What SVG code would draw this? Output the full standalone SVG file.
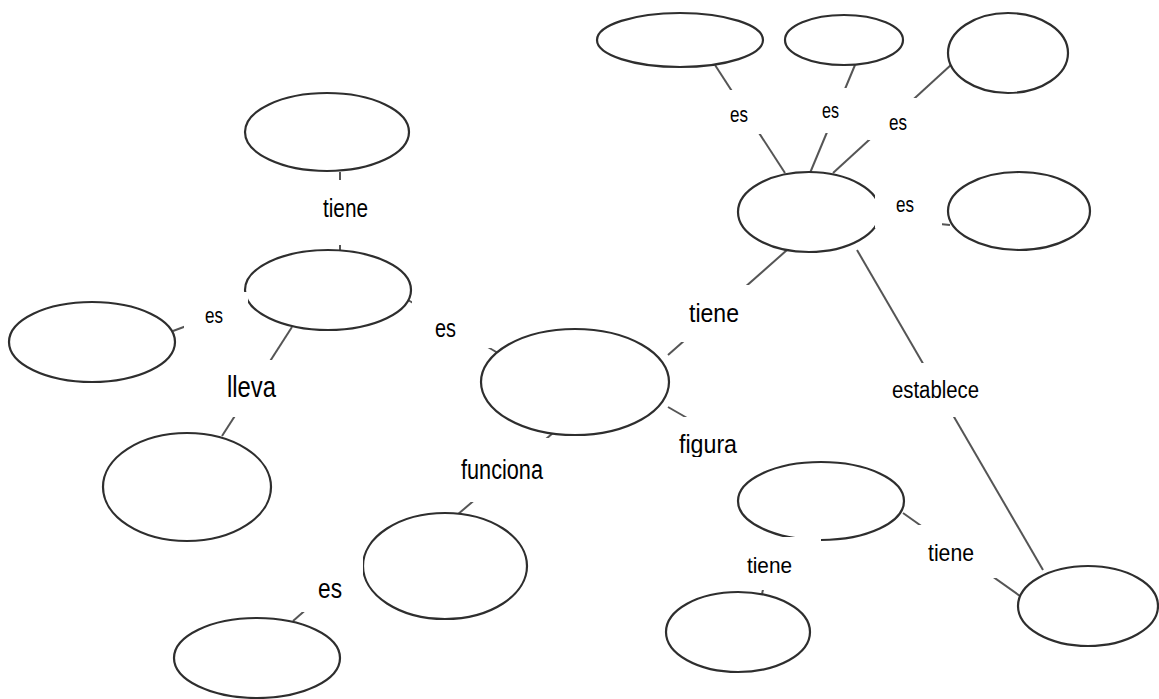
<svg xmlns="http://www.w3.org/2000/svg" width="1159" height="699" viewBox="0 0 1159 699">
<style>
.node{fill:#fff;stroke:#2e2e2e;stroke-width:2.2}
.conn{stroke:#555;stroke-width:2;fill:none}
.box{fill:#fff;stroke:none}
.lbl{font-family:"Liberation Sans Narrow","Liberation Sans",Arial,sans-serif;fill:#000}
</style>
<defs>
<clipPath id="clipFigura"><rect x="660" y="400" width="120" height="57"/></clipPath>
</defs>
<rect x="0" y="0" width="1159" height="699" fill="#fff"/>
<g id="connectors">
<line class="conn" x1="340" y1="172" x2="340" y2="250"/>
<line class="conn" x1="173" y1="331" x2="248" y2="303"/>
<line class="conn" x1="408" y1="300" x2="503" y2="356"/>
<line class="conn" x1="292" y1="327" x2="222" y2="436"/>
<line class="conn" x1="715" y1="65" x2="785" y2="173"/>
<line class="conn" x1="855" y1="65" x2="810" y2="173"/>
<line class="conn" x1="952" y1="64" x2="833" y2="173"/>
<line class="conn" x1="878" y1="218" x2="950" y2="225"/>
<line class="conn" x1="787" y1="250" x2="668" y2="355"/>
<line class="conn" x1="857" y1="250" x2="1043" y2="570"/>
<line class="conn" x1="668" y1="407" x2="708" y2="430"/>
<line class="conn" x1="553" y1="433" x2="457" y2="515"/>
<line class="conn" x1="366" y1="557" x2="293" y2="621"/>
<line class="conn" x1="774" y1="540" x2="762" y2="594"/>
<line class="conn" x1="903" y1="513" x2="1020" y2="596"/>
</g>
<g id="n-top-left"><ellipse class="node" cx="327" cy="132" rx="82" ry="39"/></g>
<g id="n-mid-left"><ellipse class="node" cx="328" cy="290" rx="83" ry="40"/></g>
<g id="n-far-left"><ellipse class="node" cx="92" cy="342" rx="83" ry="40"/></g>
<g id="n-lleva"><ellipse class="node" cx="187" cy="487" rx="84" ry="54"/></g>
<g id="n-center"><ellipse class="node" cx="575" cy="382" rx="94" ry="53"/></g>
<g id="n-funciona"><ellipse class="node" cx="445" cy="566" rx="82" ry="53"/></g>
<g id="n-bottom-left"><ellipse class="node" cx="257" cy="658" rx="83" ry="40"/></g>
<g id="n-figura"><ellipse class="node" cx="821" cy="501" rx="83" ry="39"/></g>
<g id="n-bottom-mid"><ellipse class="node" cx="738" cy="632" rx="72" ry="40"/></g>
<g id="n-bottom-right"><ellipse class="node" cx="1088" cy="606" rx="70" ry="40"/></g>
<g id="n-top-a"><ellipse class="node" cx="680" cy="40" rx="83" ry="27"/></g>
<g id="n-top-b"><ellipse class="node" cx="844" cy="40" rx="59" ry="25"/></g>
<g id="n-top-c"><ellipse class="node" cx="1008" cy="53" rx="60" ry="40"/></g>
<g id="n-hub"><ellipse class="node" cx="809" cy="212" rx="71" ry="40"/></g>
<g id="n-right-es"><ellipse class="node" cx="1019" cy="211" rx="71" ry="39"/></g>
<g id="labels">
<g id="l-tiene-top"><rect class="box" x="300" y="180" width="90" height="65"/><text class="lbl" x="323" y="217" font-size="25" textLength="45" lengthAdjust="spacingAndGlyphs">tiene</text></g>
<g id="l-es-left"><rect class="box" x="184" y="292" width="64" height="53"/><text class="lbl" x="205" y="323" font-size="22" textLength="18" lengthAdjust="spacingAndGlyphs">es</text></g>
<g id="l-es-mid"><rect class="box" x="412" y="300" width="80" height="48"/><text class="lbl" x="435" y="337" font-size="25" textLength="21" lengthAdjust="spacingAndGlyphs">es</text></g>
<g id="l-lleva"><rect class="box" x="195" y="360" width="110" height="57"/><text class="lbl" x="227" y="397" font-size="29" textLength="49" lengthAdjust="spacingAndGlyphs">lleva</text></g>
<g id="l-es-a"><rect class="box" x="713" y="90" width="62" height="44"/><text class="lbl" x="730" y="122" font-size="22" textLength="18" lengthAdjust="spacingAndGlyphs">es</text></g>
<g id="l-es-b"><rect class="box" x="800" y="88" width="68" height="45"/><text class="lbl" x="822" y="118" font-size="22" textLength="17" lengthAdjust="spacingAndGlyphs">es</text></g>
<g id="l-es-c"><rect class="box" x="868" y="98" width="77" height="42"/><text class="lbl" x="889" y="130" font-size="22" textLength="18" lengthAdjust="spacingAndGlyphs">es</text></g>
<g id="l-es-d"><rect class="box" x="875" y="185" width="67" height="43"/><text class="lbl" x="896" y="212" font-size="22" textLength="18" lengthAdjust="spacingAndGlyphs">es</text></g>
<g id="l-tiene-hub"><rect class="box" x="680" y="285" width="85" height="57"/><text class="lbl" x="689" y="322" font-size="26" textLength="50" lengthAdjust="spacingAndGlyphs">tiene</text></g>
<g id="l-establece"><rect class="box" x="885" y="363" width="105" height="54"/><text class="lbl" x="892" y="398" font-size="23" textLength="87" lengthAdjust="spacingAndGlyphs">establece</text></g>
<g id="l-figura"><rect class="box" x="660" y="417" width="110" height="40"/><text class="lbl" x="679" y="453" font-size="25" textLength="58" lengthAdjust="spacingAndGlyphs" clip-path="url(#clipFigura)">figura</text></g>
<g id="l-funciona"><rect class="box" x="455" y="438" width="95" height="64"/><text class="lbl" x="461" y="479" font-size="27" textLength="82" lengthAdjust="spacingAndGlyphs">funciona</text></g>
<g id="l-es-bl"><rect class="box" x="295" y="550" width="68" height="62"/><text class="lbl" x="318" y="598" font-size="27" textLength="24" lengthAdjust="spacingAndGlyphs">es</text></g>
<g id="l-tiene-bottom"><rect class="box" x="735" y="537" width="86" height="53"/><text class="lbl" x="747" y="573" font-size="22" textLength="45" lengthAdjust="spacingAndGlyphs">tiene</text></g>
<g id="l-tiene-right"><rect class="box" x="915" y="525" width="90" height="53"/><text class="lbl" x="928" y="561" font-size="24" textLength="46" lengthAdjust="spacingAndGlyphs">tiene</text></g>
</g>
</svg>
